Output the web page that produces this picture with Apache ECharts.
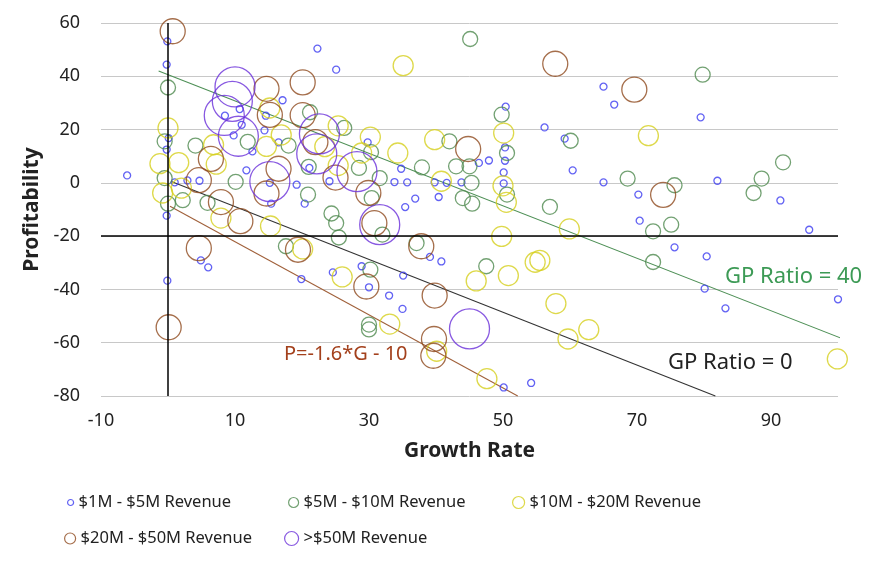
<!DOCTYPE html>
<html lang="en">
<head>
  <meta charset="UTF-8">
  <title>Growth Rate vs Profitability</title>
  <script src="https://cdn.jsdelivr.net/npm/echarts@6/dist/echarts.min.js"></script>
  <style>
    * { margin: 0; padding: 0; }
    body { background: #fff; }
    #main { width: 880px; height: 570px; }
  </style>
</head>
<body>
  <div id="main"></div>
<script>
  // series names / colours
  var seriesNames = ['$1M - $5M Revenue', '$5M - $10M Revenue', '$10M - $20M Revenue', '$20M - $50M Revenue', '>$50M Revenue'];
  var seriesColors = ['#3b3bf0', '#4f8a4f', '#d6d01e', '#8e4a1e', '#6a2fd9'];

  // [growth, profitability]
  var rev1to5 = [
    [-0.1, 53.1], [-0.2, 44.4], [22.3, 50.4], [25.1, 42.5], [17.1, 31], [10.7, 27.7], [8.5, 25.2], [14.6, 25.2],
    [11, 21.8], [14.4, 19.7], [9.8, 17.8], [0.1, 16.8], [-0.2, 12.5], [12.6, 11.8], [16.5, 15.2], [-6.1, 2.8],
    [11.7, 4.7], [15.2, 0], [15.4, -7.8], [1, 0.2], [2.9, 0.9], [4.7, 0.8], [-0.2, -12.3], [4.9, -29.1],
    [6, -31.7], [-0.1, -36.7], [19.2, -0.7], [29.8, 15.2], [46.4, 7.5], [21.1, 5.6], [24.1, 0.6], [34.8, 5.3],
    [33.8, 0.3], [35.7, 0.2], [39.8, 0.2], [41.6, 0], [43.8, 0.2], [36.9, -5.9], [40.4, -5.3], [35.4, -9.1],
    [20.4, -7.8], [65, 36.1], [66.6, 29.4], [50.4, 28.6], [56.2, 20.8], [59.2, 16.6], [50.3, 13.3], [50.3, 8.3],
    [47.9, 8.4], [50.1, 3.9], [60.4, 4.7], [50.1, -0.2], [65, 0.2], [70.2, -4.4], [79.5, 24.6], [100.2, 53.4],
    [100.4, 5.8], [82, 0.8], [91.4, -6.6], [95.7, -17.6], [100.2, -14.6], [75.6, -24.2], [80.4, -27.6], [80.1, -39.7],
    [83.2, -47.1], [100, -43.7], [70.4, -14.2], [50.1, -76.8], [54.2, -75.1], [39.1, -27.8], [40.8, -29.5], [19.9, -36.1],
    [24.6, -33.6], [28.9, -31.3], [30, -39.2], [35.1, -34.8], [33, -42.3], [35, -47.3]
  ];
  var rev5to10 = [
    [0, 35.8], [-0.5, 15.6], [4.1, 14], [11.9, 15.4], [-0.5, 1.8], [10.1, 0.4], [2.2, -6.5], [0, -7.8],
    [5.9, -7.5], [45.1, 54], [21.2, 26.5], [26.3, 20.6], [30.3, 11.5], [42, 15.6], [21, 6], [20.9, -4.4],
    [28.5, 5.6], [31.6, 1.8], [30.4, -5.7], [37.9, 5.8], [43, 6.2], [45, 6.2], [45.3, 0], [44, -5.7],
    [45.4, -7.8], [24.4, -11.5], [49.8, 25.6], [60.1, 15.8], [50.6, 11.2], [50.6, -4.4], [68.6, 1.6], [57, -9],
    [79.8, 40.6], [100.2, 46.6], [100.2, 37.7], [100.5, 12.2], [100.4, 0], [100.4, -6.9], [91.8, 7.7], [88.6, 1.6],
    [87.4, -3.8], [75.6, -0.9], [75.1, -15.7], [72.4, -18.2], [72.4, -29.7], [100.5, -59.1], [47.5, -31.3], [25.1, -15.1],
    [25.5, -20.5], [32, -19.4], [37.1, -22.6], [17.6, -23.8], [30.2, -32.6], [30, -53.2], [30, -55], [18, 14]
  ];
  var rev10to20 = [
    [0, 20.6], [6.8, 14.3], [7.2, 7], [-1.2, 7.2], [1.6, 7.6], [-0.8, -3.8], [16.9, 18], [15.2, 28.1],
    [35.1, 44], [25.4, 21.4], [23.4, 13.6], [30.2, 17.2], [28.9, 11.2], [34.3, 11.2], [39.8, 16.2], [25.4, 6.5],
    [40.8, 0.6], [50.1, 18.7], [71.7, 17.7], [50, -1.1], [50.5, -7.3], [59.9, -17.3], [49.8, -20.1], [55.5, -29.1],
    [54.8, -29.8], [50.8, -34.8], [46, -36.8], [57.9, -45.3], [59.7, -58.6], [62.8, -55.1], [47.6, -73.5], [99.9, -66.1],
    [7.9, -13.2], [15.3, -16.2], [20.1, -24.8], [26, -35.3], [33.1, -53], [40.1, -63.2], [14.7, 13.7], [2, -2]
  ];
  var rev20to50 = [
    [0.7, 56.9], [14.7, 35.3], [15.2, 25.5], [6.4, 9], [16.5, 5.3], [14.7, -4], [4.6, 1], [7.9, -7.2],
    [10.8, -14.4], [4.6, -24.5], [0.1, -54.2], [20.1, 37.7], [20.1, 25.4], [22, 15.3], [25, 2], [29.9, -3.8],
    [44.8, 12.7], [57.8, 44.7], [69.6, 35], [73.9, -4.5], [30.8, -15.1], [37.8, -23.8], [19.4, -25.1], [29.6, -38.9],
    [39.8, -42.3], [39.7, -58.6], [39.6, -64.9]
  ];
  var rev50plus = [
    [10, 36], [9.6, 30.6], [8.4, 25.3], [10.5, 17.5], [15.2, 0.5], [22.6, 18.4], [22.2, 10.9], [28.2, 4.2],
    [31.6, -15.7], [45, -54.8], [100.2, 4.6]
  ];

  // reference lines (end points)
  var gp40Line = [[-1.4, 42], [102.7, -60.5]];
  var gp0Line = [[0.5, 0.5], [81.7, -80]];
  var ruleLine = [[0.3, -8.8], [52.2, -80]];

  var bubbleSizes = [7, 15, 20, 25, 40];
  var allData = [rev1to5, rev5to10, rev10to20, rev20to50, rev50plus];

  var fontFamily = "'Noto Sans', sans-serif";
  var myChart = echarts.init(document.getElementById('main'));

  // scatter series
  var series = allData.map(function (d, i) {
    return {
      name: seriesNames[i],
      type: 'scatter',
      data: d,
      symbol: 'circle',
      symbolSize: bubbleSizes[i],
      itemStyle: { color: 'transparent', borderColor: seriesColors[i], borderWidth: 1.3 },
      emphasis: { disabled: true }
    };
  });

  // axes crossing lines (x = 0, y = -20)
  series[0].markLine = {
    silent: true,
    symbol: 'none',
    label: { show: false },
    lineStyle: { color: '#000', width: 1.5, type: 'solid' },
    data: [{ xAxis: 0 }, { yAxis: -20 }]
  };

  function refLine(data, color) {
    return {
      type: 'line',
      data: data,
      showSymbol: false,
      clip: false,
      silent: true,
      lineStyle: { color: color, width: 1.1 },
      z: 1
    };
  }
  series.push(refLine(gp40Line, '#4d8f55'));
  series.push(refLine(gp0Line, '#333'));
  series.push(refLine(ruleLine, '#a0603a'));

  var legendLeft = [67, 288, 512, 64, 284];
  var legendTop = [494, 494, 494, 530, 530];
  var legendIcon = [6, 10, 12, 11, 14];

  var legends = seriesNames.map(function (n, i) {
    return {
      data: [{
        name: n,
        icon: 'circle',
        itemStyle: { color: 'transparent', borderColor: seriesColors[i], borderWidth: 1.2 }
      }],
      left: legendLeft[i],
      top: legendTop[i],
      padding: 0,
      itemWidth: legendIcon[i],
      itemHeight: legendIcon[i],
      selectedMode: false,
      textStyle: { fontSize: 16.5, color: '#222', fontFamily: fontFamily }
    };
  });

  var option = {
    animation: false,
    textStyle: { fontFamily: fontFamily },
    grid: { left: 101, top: 23, width: 737, height: 373, containLabel: false },
    legend: legends,
    xAxis: {
      type: 'value',
      min: -10,
      max: 100,
      interval: 20,
      name: 'Growth Rate',
      nameLocation: 'middle',
      nameGap: 45,
      nameTextStyle: { fontSize: 21, fontWeight: 'bold', color: '#222', fontFamily: fontFamily },
      axisLine: { show: false },
      axisTick: { show: false },
      splitLine: { show: false },
      axisLabel: { fontSize: 18, color: '#222', margin: 16, showMaxLabel: false, fontFamily: fontFamily }
    },
    yAxis: {
      type: 'value',
      min: -80,
      max: 60,
      interval: 20,
      name: 'Profitability',
      nameLocation: 'middle',
      nameGap: 55,
      nameTextStyle: { fontSize: 21, fontWeight: 'bold', color: '#222', fontFamily: fontFamily },
      axisLine: { show: false },
      axisTick: { show: false },
      splitLine: { lineStyle: { color: '#c8c8c8', width: 1 } },
      axisLabel: { fontSize: 18, color: '#222', margin: 21, fontFamily: fontFamily }
    },
    graphic: [
      { type: 'text', left: 725, top: 266, style: { text: 'GP Ratio = 40', fill: '#3c9a55', font: '22px ' + fontFamily } },
      { type: 'text', left: 668, top: 352, style: { text: 'GP Ratio = 0', fill: '#222', font: '22px ' + fontFamily } },
      { type: 'text', left: 284, top: 344, style: { text: 'P=-1.6*G - 10', fill: '#a3401c', font: '20px ' + fontFamily } }
    ],
    series: series
  };

  myChart.setOption(option);
</script>
</body>
</html>
